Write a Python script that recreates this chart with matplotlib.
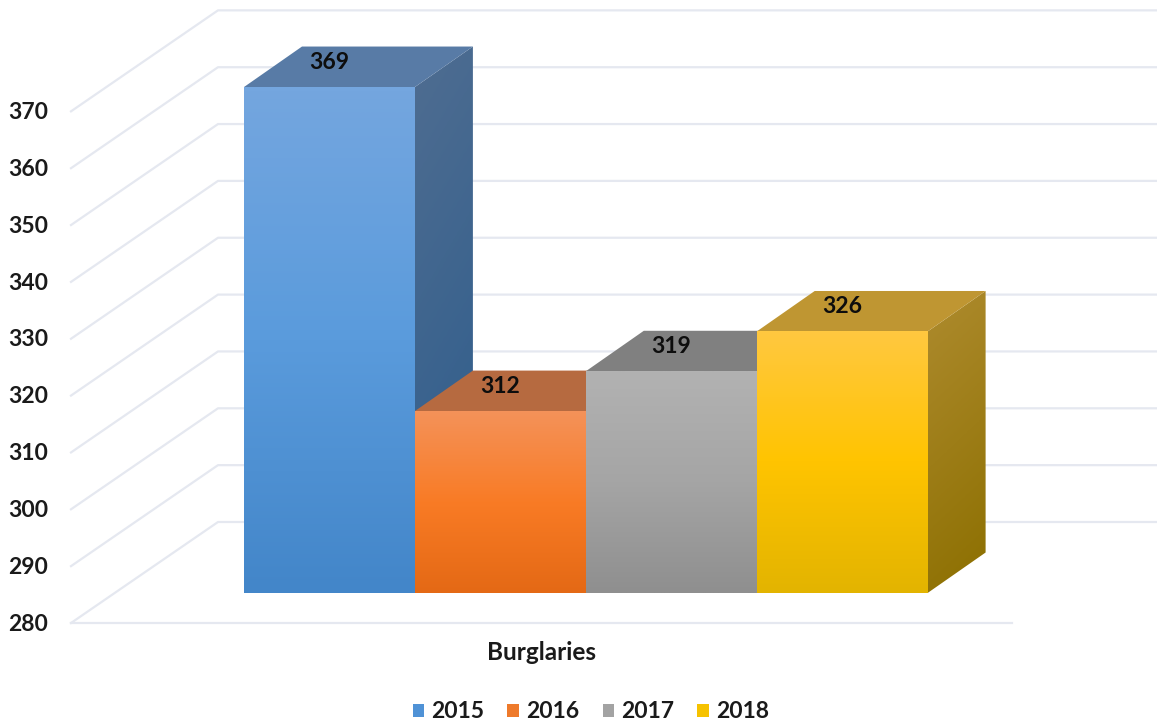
import numpy as np
import matplotlib
matplotlib.use('Agg')
import matplotlib.pyplot as plt
from matplotlib.colors import LinearSegmentedColormap, to_rgb
from matplotlib.patches import Patch, Polygon

# Data
category = 'Burglaries'
years = ['2015', '2016', '2017', '2018']
values = [369, 312, 319, 326]
y_ticks = [280, 290, 300, 310, 320, 330, 340, 350, 360, 370]

# Colours per year: front top/middle/bottom, roof, side top/bottom
front_top = ['#74A6DF', '#F49259', '#B2B2B2', '#FFC840']
front_mid = ['#5A9BDC', '#F97B25', '#A5A5A5', '#FFC400']
front_bottom = ['#4386C9', '#E46915', '#8F8F8F', '#E3B400']
roof_colors = ['#587BA6', '#B66A40', '#808080', '#BF9632']
side_top = ['#4F6D91', '#8A5030', '#707070', '#AE8B2E']
side_bottom = ['#2C5C8C', '#8A4A10', '#606060', '#8C6F00']
legend_colors = ['#4F92D6', '#EE7A2B', '#A3A3A3', '#F6C200']
grid_color = '#E5E8F0'
text_color = '#1A1A1A'

# Scales: one x unit is one bar width, y is in data units
px_per_bar = 170.9
px_per_unit = 5.685
base = 280
W, H = 1157, 728
bar_left_px, base_px = 244, 593

# 3D offsets in axis units
bar_dx, bar_dy = 58 / px_per_bar, 40.5 / px_per_unit
front_x0, front_x1 = (71 - bar_left_px) / px_per_bar, (1012 - bar_left_px) / px_per_bar
back_x0, back_x1 = (218 - bar_left_px) / px_per_bar, (W - bar_left_px) / px_per_bar
front_drop, back_rise = 30 / px_per_unit, 71 / px_per_unit

plt.rcParams['font.family'] = ['Lato', 'DejaVu Sans']
plt.rcParams['font.weight'] = 'bold'

fig = plt.figure(figsize=(W / 100, H / 100), dpi=100)
ax = fig.add_axes([0, 0, 1, 1])
xlim = (-bar_left_px / px_per_bar, (W - bar_left_px) / px_per_bar)
ylim = (base - (H - base_px) / px_per_unit, base + base_px / px_per_unit)
ax.axis('off')


def shade(points, colors, angle=False, z=3):
    # Fill a polygon with a gradient by clipping an image to it
    cmap = LinearSegmentedColormap.from_list('g', [to_rgb(c) for c in colors])
    pts = np.array(points)
    ramp = np.linspace(0, 1, 128)
    grid = np.tile(ramp[:, None], (1, 32))
    if angle:
        grid = 0.85 * grid + 0.15 * np.linspace(0, 1, 32)[None, :]
    extent = [pts[:, 0].min(), pts[:, 0].max(), pts[:, 1].min(), pts[:, 1].max()]
    im = ax.imshow(grid, cmap=cmap, extent=extent, origin='upper', aspect='auto',
                   vmin=0, vmax=1, zorder=z, interpolation='bilinear')
    poly = Polygon(points, closed=True, transform=ax.transData, fc='none', ec='none')
    ax.add_patch(poly)
    im.set_clip_path(poly)


# Walls and floor grid
for t in y_ticks:
    y_front = t - front_drop
    y_back = t + back_rise
    ax.plot([front_x0, back_x0, back_x1], [y_front, y_back, y_back],
            color=grid_color, lw=1.6, zorder=1)
    ax.text(48 / px_per_bar + xlim[0], y_front - 0.2, str(t), ha='right', va='center',
            fontsize=16.5, color=text_color)
ax.plot([front_x0, front_x1], [base - front_drop] * 2, color=grid_color, lw=1.6, zorder=1)

# Bars, left to right so each one covers the side of the one before
for i, v in enumerate(values):
    z = 3 + i
    shade([(i + 1, base), (i + 1 + bar_dx, base + bar_dy), (i + 1 + bar_dx, v + bar_dy), (i + 1, v)],
          [side_top[i], side_bottom[i]], angle=True, z=z)
    ax.add_patch(Polygon([(i, v), (i + 1, v), (i + 1 + bar_dx, v + bar_dy), (i + bar_dx, v + bar_dy)],
                         closed=True, fc=roof_colors[i], ec='none', zorder=z))
    shade([(i, base), (i + 1, base), (i + 1, v), (i, v)],
          [front_top[i], front_mid[i], front_bottom[i]], z=z)

# Value labels sit on the roofs
for i, v in enumerate(values):
    ax.text(i + 0.5, v + 4.4, str(v), ha='center', va='center',
            fontsize=16.5, color='#0D0D0D', zorder=10)

ax.text(1.74, base - 10.4, category, ha='center', va='center', fontsize=17.5, color=text_color)

handles = [Patch(fc=c, ec='none', label=y) for c, y in zip(legend_colors, years)]
ax.legend(handles=handles, ncol=4, frameon=False, loc='center',
          bbox_to_anchor=(591 / W, 1 - 712 / H), fontsize=16.5,
          handlelength=0.5, handleheight=0.5, handletextpad=0.33, columnspacing=1.0,
          labelcolor=text_color, borderpad=0, borderaxespad=0)

ax.set_xlim(*xlim)
ax.set_ylim(*ylim)
fig.savefig('out.png', dpi=100, facecolor='white')
